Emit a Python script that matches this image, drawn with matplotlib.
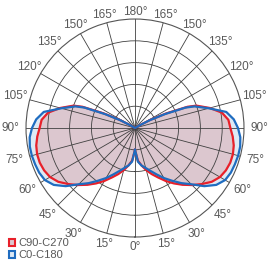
import numpy as np
import matplotlib
matplotlib.use("Agg")
import matplotlib.pyplot as plt
from matplotlib.patches import Patch

plt.rcParams["font.family"] = ["Liberation Sans", "DejaVu Sans"]

# angle from nadir (deg), relative intensity (outer ring = 1)
angles = [0, 5, 10, 15, 20, 25, 30, 35, 40, 45, 50, 55, 60, 65, 70, 75, 80, 85, 90,
          95, 100, 105, 110, 112, 115, 118, 120, 122, 180]
c0_c180 = [0.20, 0.31, 0.35, 0.38, 0.42, 0.47, 0.53, 0.59, 0.66, 0.73, 0.83, 0.91, 0.955,
           0.97, 0.975, 0.98, 0.98, 0.97, 0.945, 0.91, 0.85, 0.70, 0.58, 0.50, 0.30,
           0.15, 0.05, 0.0, 0.0]
c90_c270 = [0.20, 0.30, 0.35, 0.40, 0.45, 0.50, 0.56, 0.62, 0.68, 0.74, 0.80, 0.86, 0.90,
            0.92, 0.93, 0.93, 0.92, 0.90, 0.875, 0.86, 0.81, 0.71, 0.60, 0.52, 0.32,
            0.16, 0.06, 0.0, 0.0]
series_names = ["C90-C270", "C0-C180"]

tick_angles = list(range(0, 360, 15))
tick_labels = [f"{a if a <= 180 else 360 - a}°" for a in tick_angles]
ring_values = [0.2, 0.4, 0.6, 0.8]

red, red_fill = "#e8202a", "#dcc7cf"
blue, blue_fill = "#1f6cc0", "#dde9f5"
grid_col = "#404040"
text_col = "#595959"


def mirror(a, v):
    a = np.asarray(a, float)
    v = np.asarray(v, float)
    th = np.concatenate([a, 360 - a[::-1]])
    return np.radians(th), np.concatenate([v, v[::-1]])


fig = plt.figure(figsize=(2.74, 2.62), dpi=100)
ax = fig.add_axes([0.0949, 0.0954, 0.7956, 0.832], projection="polar")
ax.set_theta_zero_location("S")
ax.set_theta_direction(1)
ax.set_ylim(0, 1)

th_b, r_b = mirror(angles, c0_c180)
th_r, r_r = mirror(angles, c90_c270)
ax.fill(th_b, r_b, color=blue_fill, zorder=1)
ax.fill(th_r, r_r, color=red_fill, zorder=1.1)
ax.plot(th_r, r_r, color=red, lw=1.6, zorder=3)
ax.plot(th_b, r_b, color=blue, lw=1.6, zorder=3.1)

ax.set_axisbelow(False)
ax.set_yticks(ring_values)
ax.set_yticklabels([])
ax.set_thetagrids(tick_angles, [""] * len(tick_angles))
ax.grid(True, color=grid_col, lw=0.6)
ax.spines["polar"].set_color("#555555")
ax.spines["polar"].set_linewidth(0.8)
ax.tick_params(axis="x", length=0)

# angle labels just outside the outer ring
for a, lab in zip(tick_angles, tick_labels):
    t = np.radians(a)
    rr = 1.075 + 0.065 * abs(np.sin(t)) + 0.015 * np.cos(t)
    ax.text(t, rr, lab, ha="center", va="center", fontsize=8.5, color=text_col,
            clip_on=False)

handles = [Patch(facecolor=red_fill, edgecolor=red, lw=1.5),
           Patch(facecolor=blue_fill, edgecolor=blue, lw=1.5)]
fig.legend(handles, series_names, loc="lower left", bbox_to_anchor=(0.02, -0.005),
           frameon=False, fontsize=8, labelcolor=text_col, handlelength=0.6,
           handleheight=0.6, handletextpad=0.3, labelspacing=0.15, borderpad=0.2,
           borderaxespad=0.1)

fig.savefig("out.png", dpi=100)
